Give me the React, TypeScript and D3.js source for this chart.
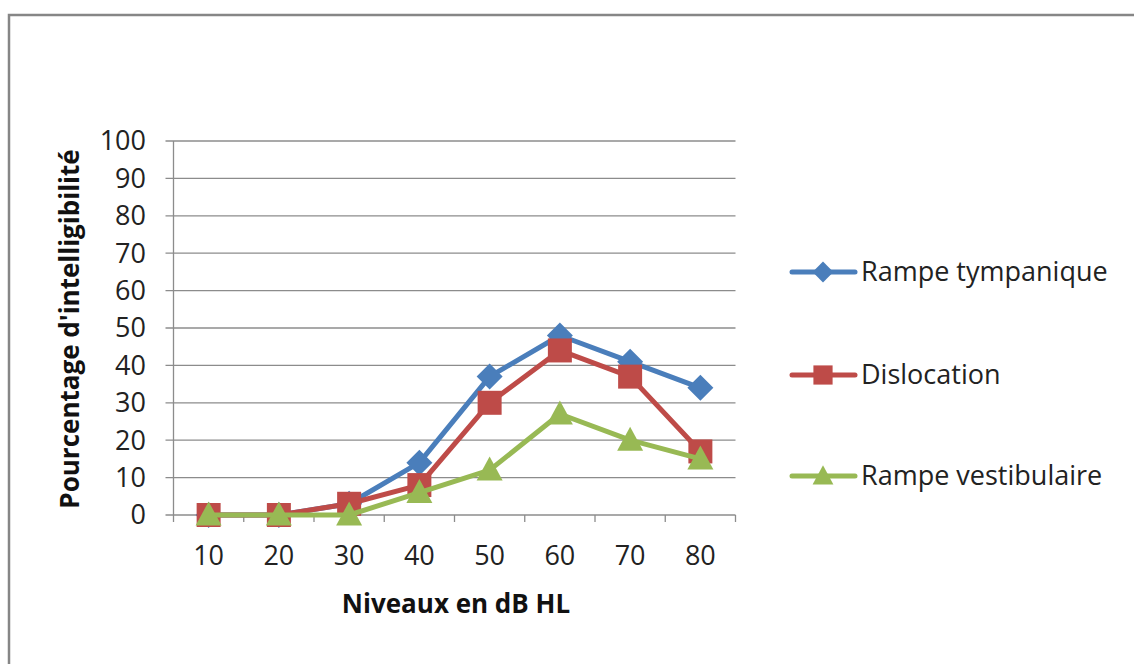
import React from "react";
import * as d3 from "d3";

const categories = ["10", "20", "30", "40", "50", "60", "70", "80"];
const seriesNames = ["Rampe tympanique", "Dislocation", "Rampe vestibulaire"];
const tympanique = [0, 0, 3, 14, 37, 48, 41, 34];
const dislocation = [0, 0, 3, 8, 30, 44, 37, 17];
const vestibulaire = [0, 0, 0, 6, 12, 27, 20, 15];
const yTicks = [0, 10, 20, 30, 40, 50, 60, 70, 80, 90, 100];
const colors = ["#4A7EBB", "#BE4B48", "#98B954"];
const markers = ["diamond", "square", "triangle"];

const FONT = "'Open Sans', sans-serif";

export default function App() {
  const W = 1134, H = 664;
  const left = 173.5, right = 735.5, top = 141, bottom = 515;
  const x = d3.scaleBand().domain(categories).range([left, right]);
  const y = d3.scaleLinear().domain([0, 100]).range([bottom, top]);
  const data = [tympanique, dislocation, vestibulaire];
  const line = d3
    .line<number>()
    .x((_, i) => (x(categories[i]) as number) + x.bandwidth() / 2)
    .y((d) => y(d));

  const symbolPath = (kind: string) => {
    if (kind === "diamond") return "M0,-13L13,0L0,13L-13,0Z";
    if (kind === "square") return "M-12,-12H12V12H-12Z";
    return "M0,-13.5L13,10.5L-13,10.5Z";
  };

  const legendY = [272, 375, 476];

  return (
    <svg width={W} height={H} style={{ position: "absolute", left: 0, top: 0, background: "#fff" }}>
      <rect x={0} y={0} width={W} height={H} fill="#fff" />
      <rect x={9} y={15} width={W + 20} height={H + 20} fill="none" stroke="#868686" strokeWidth={2.5} />
      {/* gridlines */}
      {yTicks.map((t) => (
        <line key={"g" + t} x1={left - 8} x2={right} y1={y(t)} y2={y(t)} stroke="#8c8c8c" strokeWidth={1.3} />
      ))}
      {/* y axis */}
      <line x1={left} x2={left} y1={top} y2={bottom} stroke="#8c8c8c" strokeWidth={1.3} />
      {/* x ticks */}
      {d3.range(categories.length + 1).map((i) => {
        const xx = left + i * x.step();
        return <line key={"xt" + i} x1={xx} x2={xx} y1={bottom} y2={bottom + 7} stroke="#8c8c8c" strokeWidth={1.3} />;
      })}
      {yTicks.map((t) => (
        <text key={"yl" + t} x={146} y={y(t)} dy="0.35em" textAnchor="end" fontFamily={FONT} fontSize={27} fill="#222">
          {t}
        </text>
      ))}
      {categories.map((c) => (
        <text key={"xl" + c} x={(x(c) as number) + x.bandwidth() / 2} y={565} textAnchor="middle" fontFamily={FONT} fontSize={27} fill="#222">
          {c}
        </text>
      ))}
      <text x={456} y={613} textAnchor="middle" fontFamily={FONT} fontSize={26} fontWeight="bold" fill="#111">
        Niveaux en dB HL
      </text>
      <text transform="translate(79,329) rotate(-90)" textAnchor="middle" fontFamily={FONT} fontSize={26} fontWeight="bold" fill="#111">
        Pourcentage d'intelligibilité
      </text>
      {data.map((s, k) => (
        <g key={"s" + k}>
          <path d={line(s) as string} fill="none" stroke={colors[k]} strokeWidth={5} strokeLinejoin="round" />
          {s.map((v, i) => (
            <path
              key={i}
              d={symbolPath(markers[k])}
              transform={`translate(${(x(categories[i]) as number) + x.bandwidth() / 2},${y(v)})`}
              fill={colors[k]}
            />
          ))}
        </g>
      ))}
      {seriesNames.map((n, k) => (
        <g key={"lg" + k} transform={`translate(0,${legendY[k]})`}>
          <line x1={792} x2={855} y1={0} y2={0} stroke={colors[k]} strokeWidth={5} strokeLinecap="round" />
          <path d={symbolPath(markers[k])} transform="translate(823,0) scale(0.8)" fill={colors[k]} />
          <text x={861} y={0} dy="0.35em" fontFamily={FONT} fontSize={27} fill="#222">
            {n}
          </text>
        </g>
      ))}
    </svg>
  );
}
